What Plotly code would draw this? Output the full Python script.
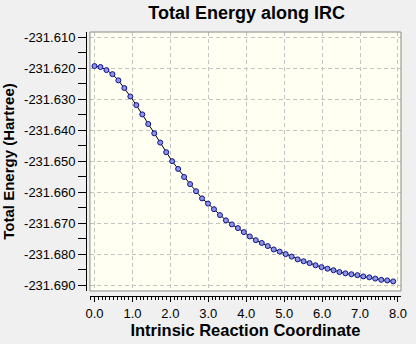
import plotly.graph_objects as go

irc_x = [0.000, 0.157, 0.315, 0.472, 0.630, 0.787, 0.945, 1.102, 1.260, 1.417,
         1.575, 1.732, 1.890, 2.047, 2.205, 2.362, 2.520, 2.677, 2.835, 2.992,
         3.150, 3.307, 3.465, 3.622, 3.780, 3.937, 4.095, 4.252, 4.410, 4.567,
         4.725, 4.882, 5.040, 5.197, 5.355, 5.512, 5.670, 5.827, 5.985, 6.142,
         6.300, 6.457, 6.615, 6.772, 6.930, 7.087, 7.245, 7.402, 7.560, 7.717,
         7.875]

energy = [-231.6193, -231.6196, -231.6206, -231.6219, -231.6239, -231.6264,
          -231.6291, -231.6319, -231.6349, -231.6380, -231.6410, -231.6440,
          -231.6471, -231.6500, -231.6525, -231.6551, -231.6574, -231.6597,
          -231.6620, -231.6637, -231.6655, -231.6674, -231.6691, -231.6704,
          -231.6716, -231.6729, -231.6743, -231.6755, -231.6764, -231.6774,
          -231.6785, -231.6792, -231.6800, -231.6808, -231.6817, -231.6823,
          -231.6829, -231.6836, -231.6842, -231.6847, -231.6852, -231.6858,
          -231.6862, -231.6865, -231.6868, -231.6872, -231.6875, -231.6879,
          -231.6883, -231.6885, -231.6888]

y_tickvals = [-231.610, -231.620, -231.630, -231.640, -231.650,
              -231.660, -231.670, -231.680, -231.690]
y_ticktext = ["-231.610", "-231.620", "-231.630", "-231.640", "-231.650",
              "-231.660", "-231.670", "-231.680", "-231.690"]

FONT = "Liberation Sans, Arial, sans-serif"

fig = go.Figure()
fig.add_trace(go.Scatter(
    x=irc_x, y=energy, mode="lines+markers",
    line=dict(color="black", width=1),
    marker=dict(symbol="circle", size=5, color="#8c94e8",
                line=dict(color="#10108a", width=1)),
    showlegend=False,
))

fig.add_shape(type="rect", xref="x domain", yref="y domain",
              x0=0, x1=1, y0=0, y1=1,
              line=dict(color="#8a8a8a", width=1), layer="above")

fig.update_layout(
    width=416, height=344,
    margin=dict(l=86, r=9, t=32, b=48),
    paper_bgcolor="#f0f0f0",
    plot_bgcolor="#fffff2",
    font=dict(family=FONT, size=12, color="black"),
    title=dict(text="<b>Total Energy along IRC</b>",
               font=dict(family=FONT, size=18, color="black"),
               x=0.593, xanchor="center", y=0.962, yanchor="middle"),
    xaxis=dict(
        domain=[0.0125, 1], anchor="free", position=0,
        range=[-0.12, 8.08],
        tick0=0, dtick=1, tickformat=".1f",
        ticks="outside", ticklen=5, tickcolor="black", tickwidth=1,
        showline=True, linecolor="black", linewidth=1,
        showgrid=True, gridcolor="#c4c4c4", griddash="4px,3px", gridwidth=1,
        zeroline=False,
        minor=dict(tick0=0, dtick=0.1, ticks="outside", ticklen=3,
                   tickcolor="black", showgrid=False),
        tickfont=dict(family=FONT, size=13),
        title=dict(text="<b>Intrinsic Reaction Coordinate</b>",
                   font=dict(family=FONT, size=16.5), standoff=3),
    ),
    yaxis=dict(
        domain=[0.019, 1], anchor="free", position=0,
        range=[-231.6919, -231.6083],
        tickmode="array", tickvals=y_tickvals, ticktext=y_ticktext,
        ticks="outside", ticklen=8, tickcolor="black", tickwidth=1,
        showline=True, linecolor="black", linewidth=1,
        showgrid=True, gridcolor="#c4c4c4", griddash="4px,3px", gridwidth=1,
        zeroline=False,
        minor=dict(tick0=-231.615, dtick=0.005, ticks="outside", ticklen=8,
                   tickcolor="black", showgrid=False),
        tickfont=dict(family=FONT, size=13),
        title=dict(text="<b>Total Energy (Hartree)</b>",
                   font=dict(family=FONT, size=15), standoff=4),
    ),
)

fig.write_html("out.html")
